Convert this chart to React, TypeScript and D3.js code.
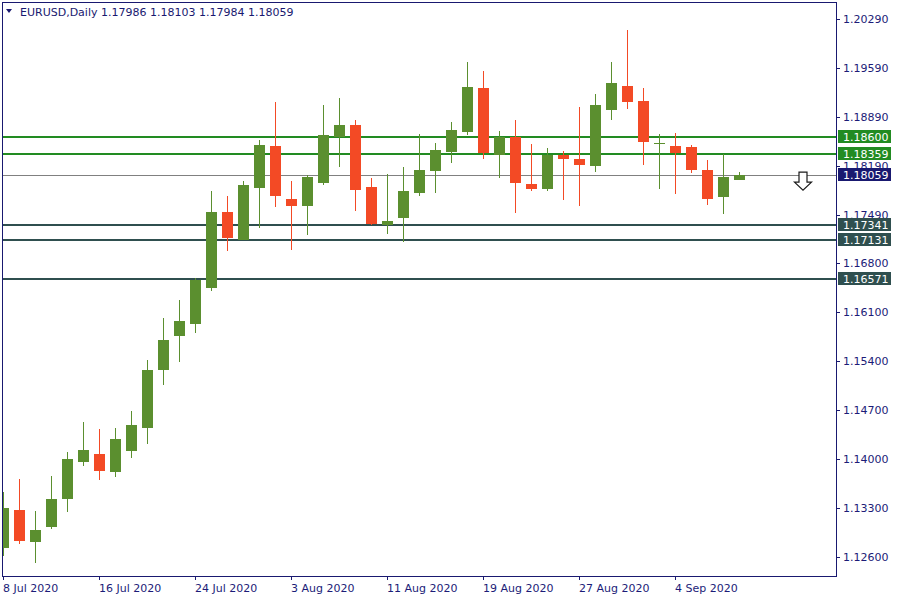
import React from "react";
import * as d3 from "d3";

// ---- data ----
const symbolTitle = "EURUSD,Daily";
const lastOHLC = ["1.17986", "1.18103", "1.17984", "1.18059"];

const opens = [
  1.12737, 1.13276, 1.12823, 1.13037, 1.13437, 1.13966, 1.14076, 1.13823, 1.14123, 1.14451,
  1.15276, 1.15766, 1.15933, 1.16447, 1.17533, 1.17133, 1.17876, 1.18476, 1.17719, 1.17623,
  1.17951, 1.186, 1.18776, 1.1789, 1.17351, 1.17451, 1.17809, 1.18123, 1.18394, 1.1868,
  1.19304, 1.18351, 1.18604, 1.17933, 1.17866, 1.18351, 1.1829, 1.18194, 1.18994, 1.19333,
  1.19119, 1.18512, 1.18476, 1.18461, 1.18133, 1.17751, 1.17986,
];
const highs = [
  1.13533, 1.13719, 1.13261, 1.13761, 1.14104, 1.14533, 1.14433, 1.14447, 1.1469, 1.15419,
  1.16019, 1.16276, 1.16586, 1.17833, 1.17761, 1.17976, 1.18561, 1.19104, 1.17976, 1.18061,
  1.19061, 1.19161, 1.18847, 1.18019, 1.18076, 1.18176, 1.18647, 1.18519, 1.18819, 1.19676,
  1.19547, 1.1869, 1.18847, 1.18504, 1.18447, 1.18404, 1.19033, 1.19219, 1.19676, 1.20133,
  1.19304, 1.18647, 1.18661, 1.1849, 1.18276, 1.18361, 1.18103,
];
const lows = [
  1.12623, 1.12794, 1.12523, 1.13009, 1.13251, 1.13909, 1.13709, 1.13751, 1.14023, 1.14223,
  1.15061, 1.15394, 1.15804, 1.16404, 1.16976, 1.17126, 1.17309, 1.17609, 1.16994, 1.17209,
  1.17923, 1.1818, 1.17551, 1.17347, 1.17219, 1.17109, 1.17766, 1.17809, 1.18237, 1.18637,
  1.18294, 1.18023, 1.17523, 1.17837, 1.17837, 1.17709, 1.17623, 1.18109, 1.18851, 1.19009,
  1.18209, 1.17866, 1.17794, 1.18094, 1.17637, 1.17509, 1.17984,
];
const closes = [
  1.13304, 1.12837, 1.1299, 1.13433, 1.14004, 1.14133, 1.13837, 1.1429, 1.1449, 1.15276,
  1.15704, 1.15976, 1.16561, 1.17533, 1.17161, 1.17919, 1.1849, 1.17766, 1.17623, 1.18033,
  1.18633, 1.18776, 1.17851, 1.17366, 1.17404, 1.17833, 1.18133, 1.18419, 1.18704, 1.19319,
  1.1838, 1.18609, 1.17951, 1.17866, 1.18351, 1.18294, 1.18209, 1.19061, 1.19376, 1.19109,
  1.18537, 1.18516, 1.1838, 1.18137, 1.17723, 1.18033, 1.18059,
];

const xTickIndex = [0, 6, 12, 18, 24, 30, 36, 42];
const xTickLabels = [
  "8 Jul 2020", "16 Jul 2020", "24 Jul 2020", "3 Aug 2020",
  "11 Aug 2020", "19 Aug 2020", "27 Aug 2020", "4 Sep 2020",
];
const yTickValues = [
  1.2029, 1.1959, 1.1889, 1.1819, 1.1749, 1.168, 1.161, 1.154, 1.147, 1.14, 1.133, 1.126,
];

const greenLevels = [1.186, 1.18359];
const slateLevels = [1.17341, 1.17131, 1.16571];
const currentPrice = 1.18059;
const arrowIndex = 50;
const arrowPrice = 1.18103;

// ---- layout ----
const W = 900;
const H = 600;
const left = 3;
const right = 836;
const top = 2;
const bottom = 576;

const FONT = "'DejaVu Sans', Verdana, sans-serif";
const UP = "#5B8F2F";
const DOWN = "#F34A25";
const NAVY = "#191970";
const AXIS_TEXT = "#1c1c78";
const LEVEL_GREEN = "#228B22";
const SLATE = "#2F4F4F";

export default function App() {
  const x = d3.scaleLinear().domain([0, (right - left) / 16]).range([left, right]);
  const y = d3.scaleLinear().domain([1.12333, 1.20533]).range([bottom, top]);
  const bodyW = 11;

  const priceBox = (v: number, bg: string, key: string) => {
    const yy = Math.round(y(v));
    return (
      <g key={key}>
        <rect x={838} y={yy - 7} width={53} height={13} fill={bg} />
        <text x={843} y={yy} dy="0.36em" fill="#ffffff" fontSize={11} fontFamily={FONT}>
          {v.toFixed(5)}
        </text>
      </g>
    );
  };

  const ax = x(arrowIndex);
  const ay = y(arrowPrice);
  const arrowPath = d3.path();
  arrowPath.moveTo(ax - 4, ay);
  arrowPath.lineTo(ax + 4, ay);
  arrowPath.lineTo(ax + 4, ay + 10);
  arrowPath.lineTo(ax + 8.5, ay + 10);
  arrowPath.lineTo(ax, ay + 18);
  arrowPath.lineTo(ax - 8.5, ay + 10);
  arrowPath.lineTo(ax - 4, ay + 10);
  arrowPath.closePath();

  return (
    <svg width={W} height={H} style={{ position: "absolute", left: 0, top: 0, background: "#fff" }}>
      <defs>
        <clipPath id="plot">
          <rect x={left} y={top} width={right - left} height={bottom - top} />
        </clipPath>
      </defs>
      <rect x={0} y={0} width={W} height={H} fill="#ffffff" />

      <g clipPath="url(#plot)">
        {/* level lines */}
        {greenLevels.map((v, i) => (
          <line key={"g" + i} x1={left} x2={right} y1={Math.round(y(v))} y2={Math.round(y(v))} stroke={LEVEL_GREEN} strokeWidth={2} />
        ))}
        {slateLevels.map((v, i) => (
          <line key={"s" + i} x1={left} x2={right} y1={Math.round(y(v))} y2={Math.round(y(v))} stroke={SLATE} strokeWidth={2} />
        ))}
        <line x1={left} x2={right} y1={Math.round(y(currentPrice)) + 0.5} y2={Math.round(y(currentPrice)) + 0.5} stroke="#808080" strokeWidth={1} />

        {/* candles */}
        {opens.map((o, i) => {
          const c = closes[i];
          const up = c >= o;
          const col = up ? UP : DOWN;
          const cx = x(i);
          const yTop = y(Math.max(o, c));
          const yBot = y(Math.min(o, c));
          const h = Math.max(1, yBot - yTop);
          return (
            <g key={i} shapeRendering="crispEdges">
              <line x1={cx + 0.5} x2={cx + 0.5} y1={y(highs[i])} y2={y(lows[i])} stroke={col} strokeWidth={1} />
              <rect x={cx - 5} y={yTop} width={bodyW} height={h} fill={col} />
            </g>
          );
        })}

        {/* arrow */}
        <path d={arrowPath.toString()} fill="#ffffff" stroke="#1a1a1a" strokeWidth={1.2} />
      </g>

      {/* frame */}
      <rect x={left - 0.5} y={top + 0.5} width={right - left + 1} height={bottom - top} fill="none" stroke={NAVY} strokeWidth={1} />

      {/* header */}
      <path d="M6,9 L12,9 L9,13 Z" fill={NAVY} />
      <text x={20} y={12} dy="0.36em" fontSize={11} fontFamily={FONT} fill={NAVY}>
        {symbolTitle + "  " + lastOHLC.join(" ")}
      </text>

      {/* y axis */}
      {yTickValues.map((v, i) => {
        const yy = Math.round(y(v)) + 0.5;
        return (
          <g key={"yt" + i}>
            <line x1={right + 0.5} x2={right + 4} y1={yy} y2={yy} stroke={NAVY} />
            <text x={843} y={yy} dy="0.36em" fontSize={11} fontFamily={FONT} fill={AXIS_TEXT}>
              {v.toFixed(5)}
            </text>
          </g>
        );
      })}
      {greenLevels.map((v, i) => priceBox(v, LEVEL_GREEN, "gb" + i))}
      {slateLevels.map((v, i) => priceBox(v, SLATE, "sb" + i))}
      {priceBox(currentPrice, NAVY, "cur")}

      {/* x axis */}
      {xTickIndex.map((idx, i) => {
        const xx = Math.round(x(idx)) + 0.5;
        return (
          <g key={"xt" + i}>
            <line x1={xx} x2={xx} y1={bottom} y2={bottom + 4} stroke={NAVY} />
            <text x={xx - 0.5} y={588} dy="0.36em" fontSize={11} fontFamily={FONT} fill={AXIS_TEXT}>
              {xTickLabels[i]}
            </text>
          </g>
        );
      })}
    </svg>
  );
}
